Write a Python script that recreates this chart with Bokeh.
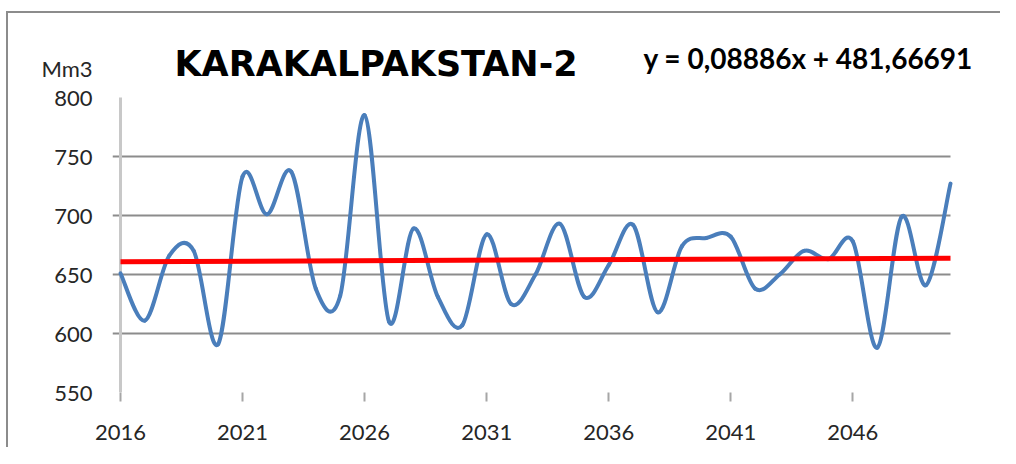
from bokeh.plotting import figure
from bokeh.models import FixedTicker, Label, ColumnDataSource, Range1d
from bokeh.embed import file_html
from bokeh.resources import INLINE

# ---- data ----
years = list(range(2016, 2051))
volumes = [651, 611, 666, 670, 591, 733, 701, 737, 638, 632,
           785, 610, 689, 631, 607, 684, 625, 650, 693, 631,
           658, 692, 618, 674, 681, 682, 638, 650, 670, 663,
           678, 588, 699, 641, 727]
trend_slope = 0.08886
trend_intercept = 481.66691
y_ticks = [550, 600, 650, 700, 750, 800]
grid_ticks = [600, 650, 700, 750]
x_ticks = [2016, 2021, 2026, 2031, 2036, 2041, 2046]
title_text = "KARAKALPAKSTAN-2"
equation_text = "y = 0,08886x + 481,66691"
unit_text = "Mm3"

# ---- layout (pixels on the page) ----
CX, CY = 8, 13            # canvas origin on the page
W, H = 994, 436
PX_LEFT, PX_RIGHT = 120, 950   # page x of first / last year
PY_TOP, PY_BOT = 97, 392       # page y of top / bottom tick value
FRAME_LEFT = 112
x_per_px = (years[-1] - years[0]) / (PX_RIGHT - PX_LEFT)
y_per_px = (y_ticks[-1] - y_ticks[0]) / (PY_BOT - PY_TOP)

def px_x(px):
    return years[0] + (px - PX_LEFT) * x_per_px

def px_y(py):
    return y_ticks[0] + (PY_BOT - py) * y_per_px

x_start = px_x(FRAME_LEFT)
x_end = px_x(CX + W)
y_end = px_y(CY)
unit_tick = px_y(68)

# ---- smoothed line segments (Catmull-Rom as cubic Bezier, like Excel's smoothed line) ----
n = len(years)
seg = dict(x0=[], y0=[], x1=[], y1=[], cx0=[], cy0=[], cx1=[], cy1=[])
for i in range(n - 1):
    a = max(i - 1, 0)
    d = min(i + 2, n - 1)
    xa, ya = years[a], volumes[a]
    xb, yb = years[i], volumes[i]
    xc, yc = years[i + 1], volumes[i + 1]
    xd, yd = years[d], volumes[d]
    seg["x0"].append(xb); seg["y0"].append(yb)
    seg["x1"].append(xc); seg["y1"].append(yc)
    seg["cx0"].append(xb + (xc - xa) / 6.0); seg["cy0"].append(yb + (yc - ya) / 6.0)
    seg["cx1"].append(xc - (xd - xb) / 6.0); seg["cy1"].append(yc - (yd - yb) / 6.0)
src = ColumnDataSource(seg)

trend_x = [years[0], years[-1]]
trend_y = [trend_slope * x + trend_intercept for x in trend_x]

p = figure(width=W, height=H, output_backend="svg", toolbar_location=None,
           x_range=Range1d(x_start, x_end), y_range=Range1d(y_ticks[0], y_end),
           min_border_left=FRAME_LEFT - CX, min_border_right=0, min_border_top=0,
           min_border_bottom=H - (PY_BOT - CY))
p.styles = {"margin-top": "11px", "margin-left": "6px",
            "border-top": "2px solid #8c8c8c", "border-left": "2px solid #8c8c8c",
            "border-right": "none", "border-bottom": "none",
            "outline": "none", "box-shadow": "none"}
p.outline_line_color = None
p.background_fill_color = "white"
p.border_fill_color = "white"

# horizontal grid lines (from tick list), ending at the last year like the chart's plot area
p.segment(x0=[x_start] * len(grid_ticks), y0=grid_ticks, x1=[years[-1]] * len(grid_ticks), y1=grid_ticks,
          line_color="#8c8c8c", line_width=2)
# vertical value-axis line
p.segment(x0=[years[0]], y0=[y_ticks[0]], x1=[years[0]], y1=[y_ticks[-1]],
          line_color="#c8c8c8", line_width=3)

p.bezier(x0="x0", y0="y0", x1="x1", y1="y1", cx0="cx0", cy0="cy0", cx1="cx1", cy1="cy1",
         source=src, line_color="#4a7ebb", line_width=4, line_cap="round")
p.line(trend_x, trend_y, line_color="#ff0000", line_width=5)

# axes
p.xaxis.ticker = FixedTicker(ticks=x_ticks)
p.xaxis.axis_line_color = None
p.xaxis.major_tick_line_color = "#a6a6a6"
p.xaxis.major_tick_line_width = 2
p.xaxis.major_tick_in = 0
p.xaxis.major_tick_out = 9
p.xaxis.minor_tick_line_color = None
p.xaxis.major_label_text_font = "Lato"
p.xaxis.major_label_text_font_size = "22px"
p.xaxis.major_label_text_color = "#262626"
p.xaxis.major_label_standoff = 23

p.yaxis.ticker = FixedTicker(ticks=y_ticks + [unit_tick])
p.yaxis.major_label_overrides = {unit_tick: unit_text}
p.yaxis.axis_line_color = None
p.yaxis.major_tick_line_color = None
p.yaxis.major_tick_in = 0
p.yaxis.major_tick_out = 0
p.yaxis.minor_tick_line_color = None
p.yaxis.major_label_text_font = "Lato"
p.yaxis.major_label_text_font_size = "22px"
p.yaxis.major_label_text_color = "#262626"
p.yaxis.major_label_standoff = FRAME_LEFT - 92

p.xgrid.grid_line_color = None
p.ygrid.grid_line_color = None

# texts
p.add_layout(Label(x=px_x(174), y=px_y(63), text=title_text,
                   text_font="DejaVu Sans", text_font_style="bold", text_font_size="35px",
                   text_color="#000000", text_baseline="alphabetic"))
p.add_layout(Label(x=px_x(643), y=px_y(57), text=equation_text,
                   text_font="Lato", text_font_style="bold", text_font_size="28px",
                   text_color="#000000", text_baseline="alphabetic"))

open("out.html", "w").write(file_html(p, INLINE))
